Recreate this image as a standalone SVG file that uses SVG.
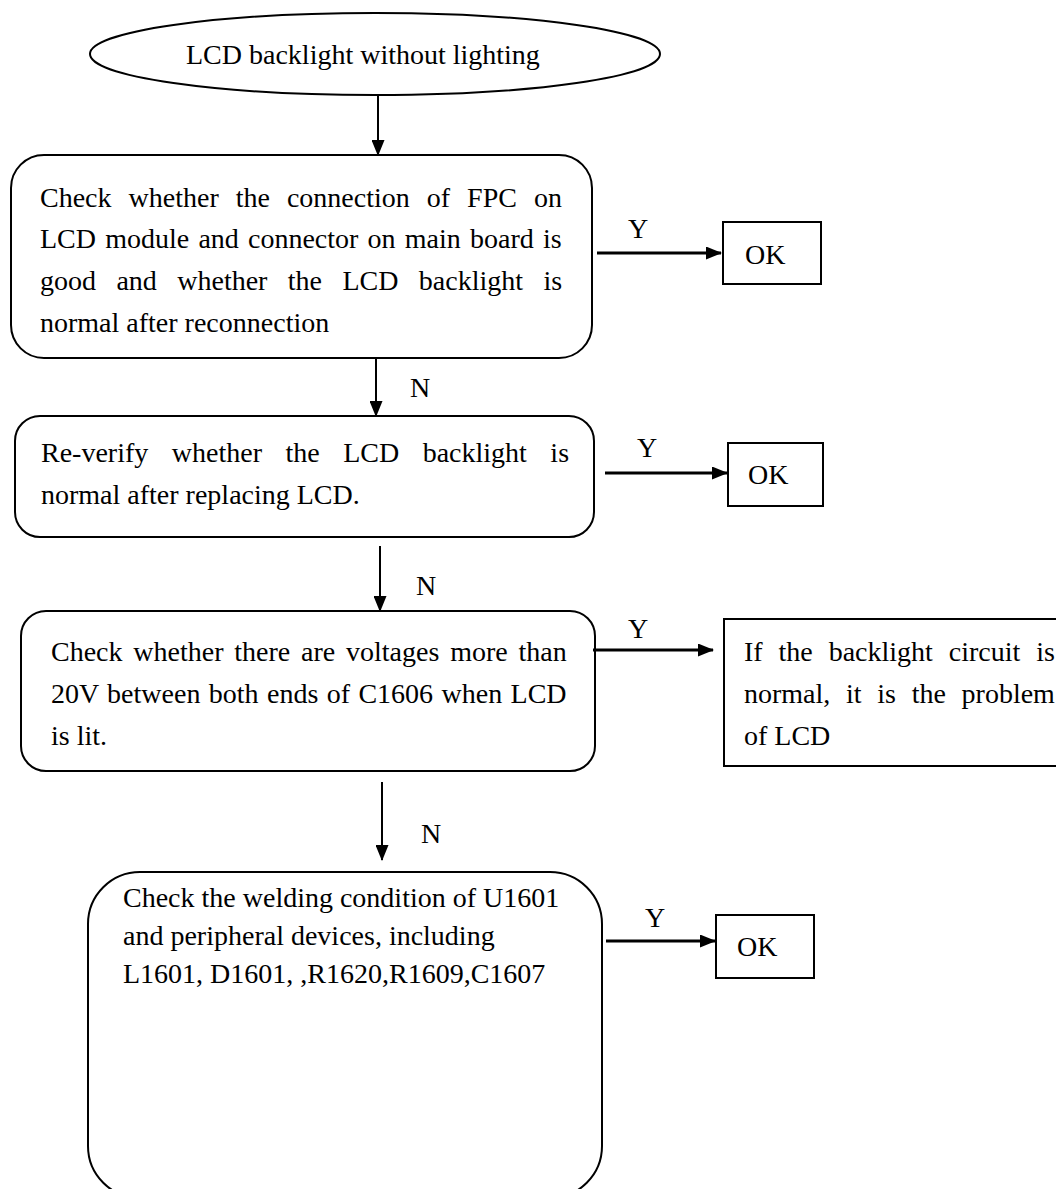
<svg xmlns="http://www.w3.org/2000/svg" width="1056" height="1189" viewBox="0 0 1056 1189">
  <defs>
    <marker id="arrow" markerWidth="16" markerHeight="13" refX="15" refY="6.5" orient="auto" markerUnits="userSpaceOnUse">
      <path d="M0,0 L16,6.5 L0,13 Z" fill="#000"/>
    </marker>
    <style>
      text { font-family: "Liberation Serif", "Times New Roman", serif; font-size: 28px; fill: #000; }
      .shape { fill: #fff; stroke: #000; stroke-width: 2; }
      .link { fill: none; stroke: #000; stroke-width: 2; marker-end: url(#arrow); }
      .yes { stroke-width: 3; }
    </style>
  </defs>
  <rect width="1056" height="1189" fill="#fff"/>

  <!-- start -->
  <g id="start">
    <ellipse class="shape" cx="375" cy="54" rx="285" ry="41"/>
    <text x="186" y="64">LCD backlight without lighting</text>
  </g>

  <!-- step 1: connector check -->
  <g id="check-fpc">
    <rect class="shape" x="11" y="155" width="581" height="203" rx="33" ry="33"/>
    <text x="40" y="207" word-spacing="10">Check whether the connection of FPC on</text>
    <text x="40" y="248" word-spacing="2.2">LCD module and connector on main board is</text>
    <text x="40" y="290" word-spacing="13.4">good and whether the LCD backlight is</text>
    <text x="40" y="332">normal after reconnection</text>
  </g>
  <g id="ok-1">
    <rect class="shape" x="723" y="222" width="98" height="62"/>
    <text x="745" y="264">OK</text>
  </g>

  <!-- step 2: replace LCD -->
  <g id="replace-lcd">
    <rect class="shape" x="15" y="416" width="579" height="121" rx="25" ry="25"/>
    <text x="41" y="462" word-spacing="16.5">Re-verify whether the LCD backlight is</text>
    <text x="41" y="504">normal after replacing LCD.</text>
  </g>
  <g id="ok-2">
    <rect class="shape" x="728" y="443" width="95" height="63"/>
    <text x="748" y="484">OK</text>
  </g>

  <!-- step 3: voltage on C1606 -->
  <g id="check-voltage">
    <rect class="shape" x="21" y="611" width="574" height="160" rx="25" ry="25"/>
    <text x="51" y="661" word-spacing="3.8">Check whether there are voltages more than</text>
    <text x="51" y="703" word-spacing="1.4">20V between both ends of C1606 when LCD</text>
    <text x="51" y="745">is lit.</text>
  </g>
  <g id="lcd-problem">
    <rect class="shape" x="724" y="619" width="340" height="147"/>
    <text x="744" y="661" word-spacing="8.9">If the backlight circuit is</text>
    <text x="744" y="703" word-spacing="8.7">normal, it is the problem</text>
    <text x="744" y="745">of LCD</text>
  </g>

  <!-- step 4: soldering of U1601 -->
  <g id="check-welding">
    <rect class="shape" x="88" y="872" width="514" height="326" rx="52" ry="52"/>
    <text x="123" y="907">Check the welding condition of U1601</text>
    <text x="123" y="945">and peripheral devices, including</text>
    <text x="123" y="983">L1601, D1601, ,R1620,R1609,C1607</text>
  </g>
  <g id="ok-3">
    <rect class="shape" x="716" y="915" width="98" height="63"/>
    <text x="737" y="956">OK</text>
  </g>

  <!-- connectors -->
  <g id="connectors">
    <line class="link" x1="378" y1="95" x2="378" y2="155"/>
    <line class="link" x1="376" y1="358" x2="376" y2="416"/>
    <line class="link" x1="380" y1="546" x2="380" y2="611"/>
    <line class="link" x1="382" y1="782" x2="382" y2="860"/>
    <line class="link yes" x1="597" y1="253" x2="721" y2="253"/>
    <line class="link yes" x1="605" y1="473" x2="727" y2="473"/>
    <line class="link yes" x1="593" y1="650" x2="713" y2="650"/>
    <line class="link yes" x1="606" y1="941" x2="715" y2="941"/>
    <text x="410" y="397">N</text>
    <text x="416" y="595">N</text>
    <text x="421" y="843">N</text>
    <text x="628" y="238">Y</text>
    <text x="637" y="457">Y</text>
    <text x="628" y="638">Y</text>
    <text x="645" y="927">Y</text>
  </g>
</svg>
